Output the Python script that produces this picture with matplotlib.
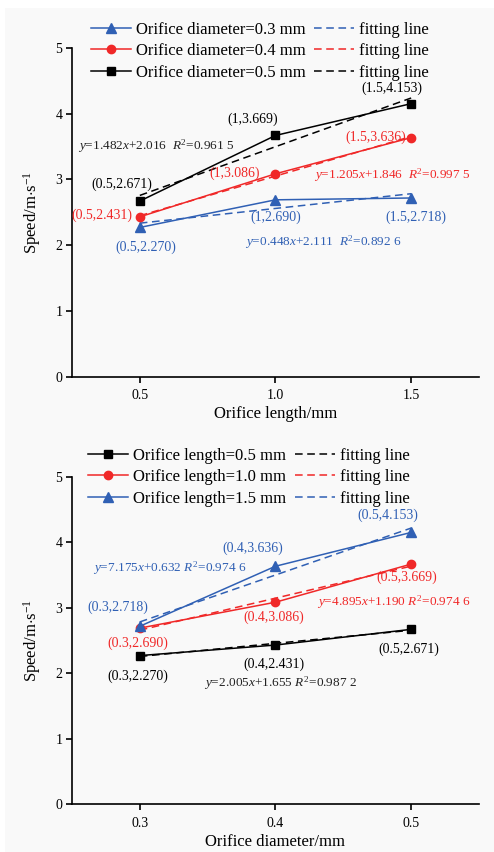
import matplotlib
matplotlib.use("Agg")
import matplotlib.pyplot as plt
from matplotlib.patches import Rectangle

plt.rcParams['font.family'] = ['Liberation Serif', 'DejaVu Serif']
plt.rcParams['mathtext.fontset'] = 'custom'
plt.rcParams['mathtext.rm'] = 'Liberation Serif'
plt.rcParams['mathtext.it'] = 'Liberation Serif:italic'

BLUE = '#3060b4'
RED = '#f02828'
BLACK = '#000000'

# speed vs orifice length, one series per orifice diameter
lengths = [0.5, 1.0, 1.5]
diam_labels = ['0.3', '0.4', '0.5']
speed_by_diam = [[2.270, 2.690, 2.718],
                 [2.431, 3.086, 3.636],
                 [2.671, 3.669, 4.153]]
fit_by_diam = [(0.448, 2.111, '0.892 6'),
               (1.205, 1.846, '0.997 5'),
               (1.482, 2.016, '0.961 5')]

# speed vs orifice diameter, one series per orifice length
diameters = [0.3, 0.4, 0.5]
len_labels = ['0.5', '1.0', '1.5']
speed_by_len = [[2.270, 2.431, 2.671],
                [2.690, 3.086, 3.669],
                [2.718, 3.636, 4.153]]
fit_by_len = [(2.005, 1.655, '0.987 2'),
              (4.895, 1.190, '0.974 6'),
              (7.175, 0.632, '0.974 6')]

fig = plt.figure(figsize=(4.94, 8.52), dpi=100)
fig.patches.append(Rectangle((5 / 494, 0), 1, 1 - 8 / 852, transform=fig.transFigure,
                             facecolor='#f9f9f9', edgecolor='none', zorder=-10))

ax1 = fig.add_axes([0.1457, 0.5579, 0.8239, 0.3858])
ax2 = fig.add_axes([0.1457, 0.0563, 0.8239, 0.3838])


def style_axes(ax, xlim, xticks, xticklabels, xlabel):
    ax.set_facecolor('none')
    ax.set_xlim(*xlim)
    ax.set_ylim(0, 5)
    ax.set_xticks(xticks)
    ax.set_xticklabels(xticklabels)
    ax.set_yticks([0, 1, 2, 3, 4, 5])
    for s in ['top', 'right']:
        ax.spines[s].set_visible(False)
    for s in ['left', 'bottom']:
        ax.spines[s].set_linewidth(1.2)
    ax.tick_params(direction='out', length=4, width=1.2, labelsize=10, pad=3)
    ax.tick_params(axis='x', pad=5)
    ax.set_xlabel(xlabel, fontsize=12, labelpad=3)
    ax.set_ylabel(r'Speed/m$\cdot$s$^{-1}$', fontsize=12, labelpad=9)


def eq_text(k, b, r2):
    return '$y$=%.3f$x$+%.3f  $R^{2}$=%s' % (k, b, r2)


def add_legend(ax, handles, x0, y0):
    ax.legend(handles, [h.get_label() for h in handles], ncol=2, frameon=False,
              fontsize=12, loc='center left', bbox_to_anchor=(x0, y0),
              handlelength=2.4, handletextpad=0.3, columnspacing=0.5, labelspacing=0.33)


# ---- top panel ----
markers1 = ['^', 'o', 's']
colors1 = [BLUE, RED, BLACK]
lines, fits = [], []
for i in range(3):
    ln, = ax1.plot(lengths, speed_by_diam[i], color=colors1[i], marker=markers1[i],
                   lw=1.1, ms=6 if markers1[i] != '^' else 7,
                   label='Orifice diameter=%s mm' % diam_labels[i])
    k, b, _ = fit_by_diam[i]
    xs = [lengths[0], lengths[-1]]
    fl, = ax1.plot(xs, [k * x + b for x in xs], color=colors1[i], ls=(0, (5, 3)),
                   lw=1.1, label='fitting line')
    lines.append(ln)
    fits.append(fl)
add_legend(ax1, lines + fits, 0.01, 0.99)

ann_fs = 10
# point labels
ax1.text(1.43, 4.38, '(1.5,4.153)', color=BLACK, fontsize=ann_fs, ha='center', va='center')
ax1.text(0.915, 3.91, '(1,3.669)', color=BLACK, fontsize=ann_fs, ha='center', va='center')
ax1.text(0.434, 2.93, '(0.5,2.671)', color=BLACK, fontsize=ann_fs, ha='center', va='center')
ax1.text(0.849, 3.10, '(1,3.086)', color=RED, fontsize=ann_fs, ha='center', va='center')
ax1.text(1.371, 3.64, '(1.5,3.636)', color=RED, fontsize=ann_fs, ha='center', va='center')
ax1.text(0.36, 2.46, '(0.5,2.431)', color=RED, fontsize=ann_fs, ha='center', va='center')
ax1.text(1.0, 2.43, '(1,2.690)', color=BLUE, fontsize=ann_fs, ha='center', va='center')
ax1.text(1.518, 2.43, '(1.5,2.718)', color=BLUE, fontsize=ann_fs, ha='center', va='center')
ax1.text(0.522, 1.97, '(0.5,2.270)', color=BLUE, fontsize=ann_fs, ha='center', va='center')
# fitted equations
ax1.text(0.272, 3.50, eq_text(*fit_by_diam[2]), color='#222222', fontsize=9.5,
         ha='left', va='center')
ax1.text(1.72, 3.07, eq_text(*fit_by_diam[1]), color=RED, fontsize=9.5,
         ha='right', va='center')
ax1.text(1.176, 2.05, eq_text(*fit_by_diam[0]), color=BLUE, fontsize=9.5,
         ha='center', va='center')

style_axes(ax1, (0.25, 1.75), lengths, ['0.5', '1.0', '1.5'], 'Orifice length/mm')

# ---- bottom panel ----
markers2 = ['s', 'o', '^']
colors2 = [BLACK, RED, BLUE]
lines, fits = [], []
for i in range(3):
    ln, = ax2.plot(diameters, speed_by_len[i], color=colors2[i], marker=markers2[i],
                   lw=1.1, ms=6 if markers2[i] != '^' else 7,
                   label='Orifice length=%s mm' % len_labels[i])
    k, b, _ = fit_by_len[i]
    xs = [diameters[0], diameters[-1]]
    fl, = ax2.plot(xs, [k * x + b for x in xs], color=colors2[i], ls=(0, (5, 3)),
                   lw=1.1, label='fitting line')
    lines.append(ln)
    fits.append(fl)
add_legend(ax2, lines + fits, 0.003, 1.0)

ax2.text(0.483, 4.42, '(0.5,4.153)', color=BLUE, fontsize=ann_fs, ha='center', va='center')
ax2.text(0.383, 3.91, '(0.4,3.636)', color=BLUE, fontsize=ann_fs, ha='center', va='center')
ax2.text(0.2838, 3.01, '(0.3,2.718)', color=BLUE, fontsize=ann_fs, ha='center', va='center')
ax2.text(0.497, 3.46, '(0.5,3.669)', color=RED, fontsize=ann_fs, ha='center', va='center')
ax2.text(0.3985, 2.86, '(0.4,3.086)', color=RED, fontsize=ann_fs, ha='center', va='center')
ax2.text(0.2985, 2.46, '(0.3,2.690)', color=RED, fontsize=ann_fs, ha='center', va='center')
ax2.text(0.498, 2.37, '(0.5,2.671)', color=BLACK, fontsize=ann_fs, ha='center', va='center')
ax2.text(0.3985, 2.13, '(0.4,2.431)', color=BLACK, fontsize=ann_fs, ha='center', va='center')
ax2.text(0.2985, 1.96, '(0.3,2.270)', color=BLACK, fontsize=ann_fs, ha='center', va='center')

ax2.text(0.2655, 3.61, eq_text(*fit_by_len[2]).replace('  ', ' '), color=BLUE,
         fontsize=9.5, ha='left', va='center')
ax2.text(0.544, 3.09, eq_text(*fit_by_len[1]).replace('  ', ' '), color=RED,
         fontsize=9.5, ha='right', va='center')
ax2.text(0.4037, 1.85, eq_text(*fit_by_len[0]).replace('  ', ' '), color='#222222',
         fontsize=9.5, ha='center', va='center')

style_axes(ax2, (0.25, 0.55), diameters, ['0.3', '0.4', '0.5'], 'Orifice diameter/mm')

fig.savefig('out.png', dpi=100, facecolor='white')
